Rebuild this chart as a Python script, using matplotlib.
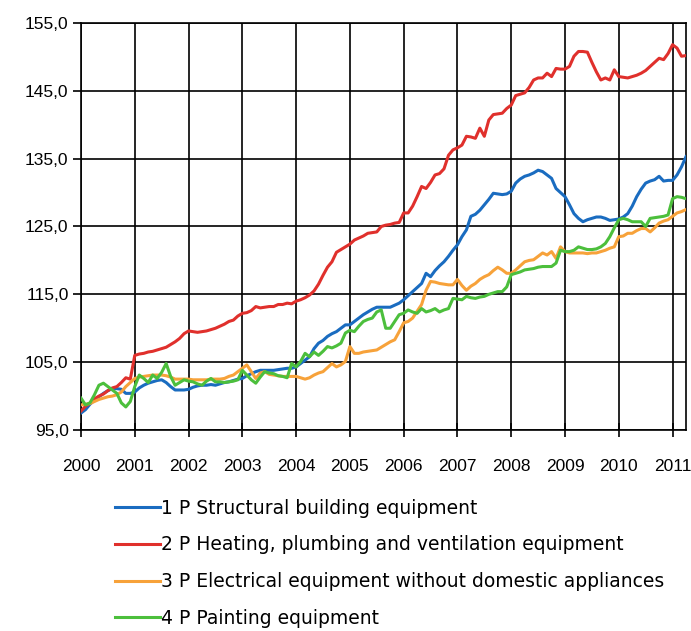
import numpy as np
import matplotlib
matplotlib.use('Agg')
import matplotlib.pyplot as plt
from matplotlib.ticker import FuncFormatter

# monthly index values, Jan 2000 - Apr 2011
structural = [
    97.5, 98.0, 98.8, 99.4, 99.9, 100.4, 100.8, 101.1, 101.1, 101.0, 100.4, 100.4,
    100.6, 101.2, 101.6, 101.9, 102.1, 102.3, 102.4, 102.0, 101.4, 100.9, 100.9, 100.9,
    101.0, 101.3, 101.5, 101.6, 101.6, 101.7, 101.6, 101.8, 102.0, 102.1, 102.3, 102.5,
    102.6, 103.0, 103.3, 103.6, 103.8, 103.8, 103.8, 103.8, 103.9, 104.0, 104.1, 104.1,
    104.3, 104.8, 105.3, 105.8, 107.0, 107.8, 108.2, 108.8, 109.2, 109.5, 110.0, 110.5,
    110.5, 111.0, 111.5, 112.0, 112.4, 112.8, 113.1, 113.1, 113.1, 113.1, 113.4, 113.7,
    114.2, 114.8, 115.4, 116.0, 116.6, 118.1, 117.6, 118.5, 119.2, 119.8, 120.6, 121.5,
    122.3, 123.5, 124.5, 126.5, 126.8, 127.4, 128.2, 129.0, 129.9, 129.8, 129.7, 129.8,
    130.2, 131.4, 132.0, 132.4, 132.6, 132.9, 133.3, 133.1, 132.6, 132.1, 130.6, 130.0,
    129.4, 128.2, 126.9, 126.2, 125.7, 126.0, 126.2, 126.4, 126.4, 126.2, 125.9, 126.0,
    126.1, 126.4, 126.9, 128.0, 129.4, 130.5, 131.4, 131.7, 131.9, 132.4, 131.7, 131.8,
    131.8, 132.6, 133.8, 135.3]

heating = [
    97.8, 98.5, 99.0, 99.6, 100.0, 100.3, 100.8, 101.2, 101.4, 102.0, 102.7, 102.5,
    106.0, 106.2, 106.3, 106.5, 106.6, 106.8, 107.0, 107.2, 107.6, 108.0, 108.5, 109.2,
    109.6, 109.5, 109.4, 109.5, 109.6, 109.8, 110.0, 110.3, 110.6, 111.0, 111.2, 111.8,
    112.2, 112.3, 112.6, 113.2, 113.0, 113.1, 113.2, 113.2, 113.5, 113.5, 113.7, 113.6,
    114.0, 114.2, 114.5, 114.9, 115.5, 116.5, 117.8, 119.0, 119.8, 121.2, 121.6, 122.0,
    122.4, 123.0, 123.3, 123.6, 124.0, 124.1, 124.2, 125.0, 125.2, 125.3, 125.5, 125.6,
    127.0, 127.0, 128.0, 129.4, 130.9, 130.6, 131.5, 132.6, 132.8, 133.5, 135.5, 136.3,
    136.6, 137.0, 138.3, 138.2, 138.0, 139.5, 138.3, 140.7, 141.5, 141.6, 141.7, 142.4,
    142.9, 144.3, 144.5, 144.7, 145.5, 146.6, 146.9, 146.9, 147.6, 147.1, 148.3, 148.2,
    148.2, 148.6, 150.1, 150.8, 150.8, 150.7, 149.2, 147.8, 146.6, 146.9, 146.6, 148.1,
    147.1, 147.0, 146.9, 147.1, 147.3, 147.6, 148.0, 148.6, 149.2, 149.8, 149.6, 150.5,
    151.8, 151.3, 150.1, 150.2]

electrical = [
    98.7, 98.8, 98.9, 99.2, 99.5, 99.7, 99.9, 100.0, 100.2, 100.6, 101.4, 102.0,
    102.6, 102.8, 102.9, 103.0, 103.1, 103.1, 103.1, 103.0, 102.8, 102.5, 102.5, 102.5,
    102.5, 102.4, 102.4, 102.4, 102.4, 102.5, 102.5, 102.5, 102.6, 102.9, 103.1, 103.6,
    104.1, 104.6, 103.6, 102.6, 103.4, 103.6, 103.2, 103.1, 103.0, 102.9, 102.9, 102.9,
    102.9, 102.7, 102.5, 102.7, 103.1, 103.4, 103.6, 104.2, 104.8, 104.3, 104.6, 105.1,
    107.3, 106.3, 106.3, 106.5, 106.6, 106.7, 106.8, 107.2, 107.6, 108.0, 108.3, 109.5,
    110.8, 111.0, 111.5, 112.5, 113.5, 115.6, 116.9, 116.8, 116.6, 116.5, 116.4, 116.4,
    117.2, 116.3, 115.6, 116.2, 116.6, 117.2, 117.6, 117.9, 118.5, 119.0, 118.6, 118.1,
    118.1, 118.6, 119.2, 119.8, 120.0, 120.1, 120.6, 121.1, 120.8, 121.3, 120.3, 122.0,
    121.3, 121.1, 121.1, 121.1, 121.1, 121.0, 121.1, 121.1, 121.3, 121.5, 121.8, 122.0,
    123.5, 123.6, 124.0, 124.0, 124.4, 124.7, 124.7, 124.2, 124.8, 125.5, 125.8, 126.0,
    126.5, 127.0, 127.2, 127.5]

painting = [
    99.7, 98.7, 99.0, 100.2, 101.6, 101.9, 101.4, 100.9, 100.4, 99.0, 98.4, 99.2,
    101.4, 103.1, 102.6, 102.0, 103.1, 102.6, 103.5, 104.8, 102.9, 101.6, 102.0, 102.4,
    102.2, 102.1, 101.8, 101.6, 102.2, 102.6, 102.1, 102.1, 102.0, 102.1, 102.2, 102.4,
    103.8, 103.1, 102.4, 101.9, 102.8, 103.6, 103.4, 103.3, 103.0, 102.9, 102.7, 104.8,
    104.3, 105.1, 106.3, 105.8, 106.5, 106.0, 106.6, 107.3, 107.1, 107.4, 107.8, 109.3,
    109.7, 109.5, 110.3, 111.0, 111.3, 111.5, 112.4, 112.7, 110.0, 110.0, 111.0, 112.0,
    112.2, 112.7, 112.4, 112.2, 112.9, 112.4, 112.6, 112.9, 112.4, 112.7, 112.9, 114.4,
    114.3, 114.2, 114.7, 114.5, 114.4, 114.6, 114.7, 115.0, 115.2, 115.4, 115.4, 116.1,
    117.9, 118.1, 118.3, 118.6, 118.7, 118.8, 119.0, 119.1, 119.1, 119.1, 119.6, 121.5,
    121.3, 121.3, 121.5, 122.0, 121.8, 121.6, 121.6, 121.7, 122.0, 122.5, 123.5, 124.8,
    126.0, 126.2, 126.0, 125.7, 125.7, 125.7, 125.0, 126.2, 126.3, 126.4, 126.5, 126.7,
    129.1, 129.4, 129.3, 129.1]

labels = ['1 P Structural building equipment',
          '2 P Heating, plumbing and ventilation equipment',
          '3 P Electrical equipment without domestic appliances',
          '4 P Painting equipment']
colors = ['#1a6cc0', '#e0302c', '#f7a23a', '#4cbf3c']
years = list(range(2000, 2012))

plt.rcParams['font.family'] = ['Liberation Sans', 'DejaVu Sans']

fig = plt.figure(figsize=(6.91, 6.31), dpi=100)
ax = fig.add_axes([81 / 691, 1 - 430 / 631, 605 / 691, 407 / 631])

t = 2000 + np.arange(len(structural)) / 12.0
for vals, lab, c in zip([structural, heating, electrical, painting], labels, colors):
    ax.plot(t, vals, color=c, lw=2.2, label=lab, zorder=3)

ax.set_xlim(2000, 2011.25)
ax.set_ylim(95, 155)
ax.set_yticks(np.arange(95, 156, 10))
ax.yaxis.set_major_formatter(FuncFormatter(lambda v, p: ('%.1f' % v).replace('.', ',')))
ax.set_xticks(years)
ax.set_xticklabels([str(y) for y in years])
ax.grid(True, color='black', lw=1.2, zorder=1)
for s in ax.spines.values():
    s.set_color('black')
    s.set_linewidth(1.2)
ax.tick_params(axis='y', length=6, width=1.2, labelsize=12.5, pad=3)
ax.tick_params(axis='x', direction='inout', length=10, width=1.2, labelsize=12.5, pad=16)

fig.legend(loc='upper left', bbox_to_anchor=(108 / 691, 1 - 491 / 631), frameon=False,
           prop={'family': 'DejaVu Sans', 'size': 13.5},
           handlelength=2.35, handletextpad=0.1, labelspacing=0.95,
           borderaxespad=0)

fig.savefig('out.png', dpi=100)
